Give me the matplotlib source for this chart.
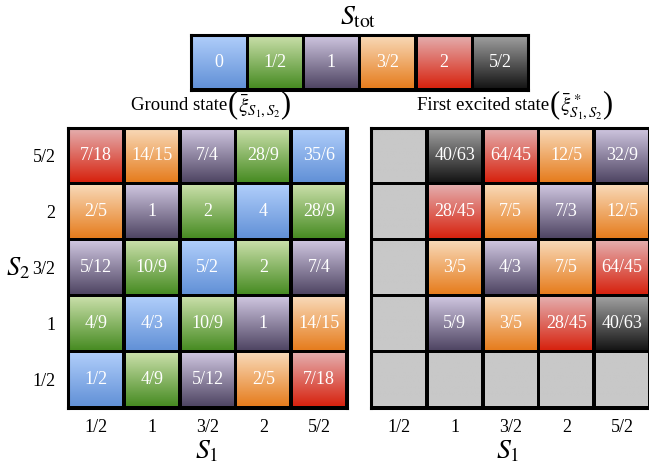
import numpy as np
import matplotlib
matplotlib.use("Agg")
import matplotlib.pyplot as plt

plt.rcParams['font.family'] = ['Liberation Serif', 'DejaVu Serif']
plt.rcParams['mathtext.fontset'] = 'stix'

# === Data ===
stot_labels = ["0", "1/2", "1", "3/2", "2", "5/2"]
spin_labels = ["1/2", "1", "3/2", "2", "5/2"]

# rows from S2 = 5/2 (top) down to S2 = 1/2 (bottom), columns S1 = 1/2 .. 5/2
ground_text = [
    ["7/18", "14/15", "7/4", "28/9", "35/6"],
    ["2/5", "1", "2", "4", "28/9"],
    ["5/12", "10/9", "5/2", "2", "7/4"],
    ["4/9", "4/3", "10/9", "1", "14/15"],
    ["1/2", "4/9", "5/12", "2/5", "7/18"],
]
# S_tot index per cell (0 -> "0", 1 -> "1/2", ..., 5 -> "5/2")
ground_stot = [
    [4, 3, 2, 1, 0],
    [3, 2, 1, 0, 1],
    [2, 1, 0, 1, 2],
    [1, 0, 1, 2, 3],
    [0, 1, 2, 3, 4],
]

excited_text = [
    ["", "40/63", "64/45", "12/5", "32/9"],
    ["", "28/45", "7/5", "7/3", "12/5"],
    ["", "3/5", "4/3", "7/5", "64/45"],
    ["", "5/9", "3/5", "28/45", "40/63"],
    ["", "", "", "", ""],
]
# -1 = empty (gray) cell
excited_stot = [
    [-1, 5, 4, 3, 2],
    [-1, 4, 3, 2, 3],
    [-1, 3, 2, 3, 4],
    [-1, 2, 3, 4, 5],
    [-1, -1, -1, -1, -1],
]

# top / bottom gradient colours for each S_tot
top_colors = [(175, 205, 250), (200, 222, 168), (205, 196, 222),
              (248, 216, 182), (228, 172, 172), (158, 158, 158)]
bottom_colors = [(98, 145, 215), (72, 140, 35), (80, 70, 100),
                 (230, 125, 30), (215, 35, 15), (22, 22, 22)]
empty_color = (200, 200, 200)

GAP = 0.035


def draw_cell(ax, x, y, idx, label):
    # x, y: lower-left corner in data units
    if idx < 0:
        top = bottom = np.array(empty_color) / 255
    else:
        top = np.array(top_colors[idx]) / 255
        bottom = np.array(bottom_colors[idx]) / 255
    t = np.linspace(0, 1, 64)[:, None]
    grad = (top[None, :] * (1 - t) + bottom[None, :] * t)[:, None, :]
    ax.imshow(grad, extent=[x + GAP, x + 1 - GAP, y + GAP, y + 1 - GAP],
              origin='upper', aspect='auto', interpolation='bilinear', zorder=1)
    if label:
        ax.text(x + 0.5, y + 0.5, label, ha='center', va='center',
                color='white', fontsize=13, zorder=2)


def setup_box(ax, ncols, nrows):
    ax.set_facecolor('black')
    ax.set_xlim(0, ncols)
    ax.set_ylim(0, nrows)
    for sp in ax.spines.values():
        sp.set_linewidth(2.2)
        sp.set_color('black')
    ax.tick_params(length=0)


fig = plt.figure(figsize=(6.49, 4.68), dpi=100)
W, H = 649, 468


def add_axes_px(x0, y0, x1, y1):
    return fig.add_axes([x0 / W, (H - y1) / H, (x1 - x0) / W, (y1 - y0) / H])


def title_pieces(xc, yc, pieces):
    # pieces: list of (text, fontsize, dy in px); laid out left to right, centred on xc
    renderer = fig.canvas.get_renderer()
    texts, widths = [], []
    for s, fs, dy in pieces:
        t = fig.text(0, (H - yc - dy) / H, s, ha='left', va='center', fontsize=fs)
        widths.append(t.get_window_extent(renderer).width)
        texts.append(t)
    x = xc - sum(widths) / 2
    for t, w in zip(texts, widths):
        t.set_x(x / W)
        x += w


# === S_tot legend ===
ax_leg = add_axes_px(191, 35, 528, 90)
setup_box(ax_leg, 6, 1)
for i, lab in enumerate(stot_labels):
    draw_cell(ax_leg, i, 0, i, lab)
ax_leg.set_xticks([])
ax_leg.set_yticks([])
fig.text(358 / W, 1 - 18 / H, r"$S_{\mathrm{tot}}$", ha='center', va='center', fontsize=20)

# === Ground state grid ===
ax_g = add_axes_px(68, 128, 347, 408)
setup_box(ax_g, 5, 5)
for r in range(5):
    for c in range(5):
        draw_cell(ax_g, c, 4 - r, ground_stot[r][c], ground_text[r][c])
ax_g.set_xticks(np.arange(5) + 0.5)
ax_g.set_xticklabels(spin_labels, fontsize=13)
ax_g.set_yticks(np.arange(5) + 0.5)
ax_g.set_yticklabels(spin_labels, fontsize=13)
ax_g.tick_params(axis='x', pad=8)
ax_g.tick_params(axis='y', pad=9)

# === First excited state grid ===
ax_e = add_axes_px(371, 128, 650, 408)
setup_box(ax_e, 5, 5)
for r in range(5):
    for c in range(5):
        draw_cell(ax_e, c, 4 - r, excited_stot[r][c], excited_text[r][c])
ax_e.set_xticks(np.arange(5) + 0.5)
ax_e.set_xticklabels(spin_labels, fontsize=13)
ax_e.set_yticks([])
ax_e.tick_params(axis='x', pad=8)

# === Titles and axis labels ===
title_pieces(211, 106, [("Ground state", 13.5, 0), ("(", 22, -1),
                        (r"$\bar{\xi}_{S_1,S_2}$", 15, 0), (")", 22, -1)])
title_pieces(515, 106, [("First excited state", 13.5, 0), ("(", 22, -1),
                        (r"$\bar{\xi}^{\,*}_{S_1,S_2}$", 15, 0), (")", 22, -1)])
fig.text(207 / W, 1 - 452 / H, r"$S_1$", ha='center', va='center', fontsize=20)
fig.text(508 / W, 1 - 452 / H, r"$S_1$", ha='center', va='center', fontsize=20)
fig.text(18 / W, 1 - 268 / H, r"$S_2$", ha='center', va='center', fontsize=19)

fig.savefig("out.png", dpi=100)
